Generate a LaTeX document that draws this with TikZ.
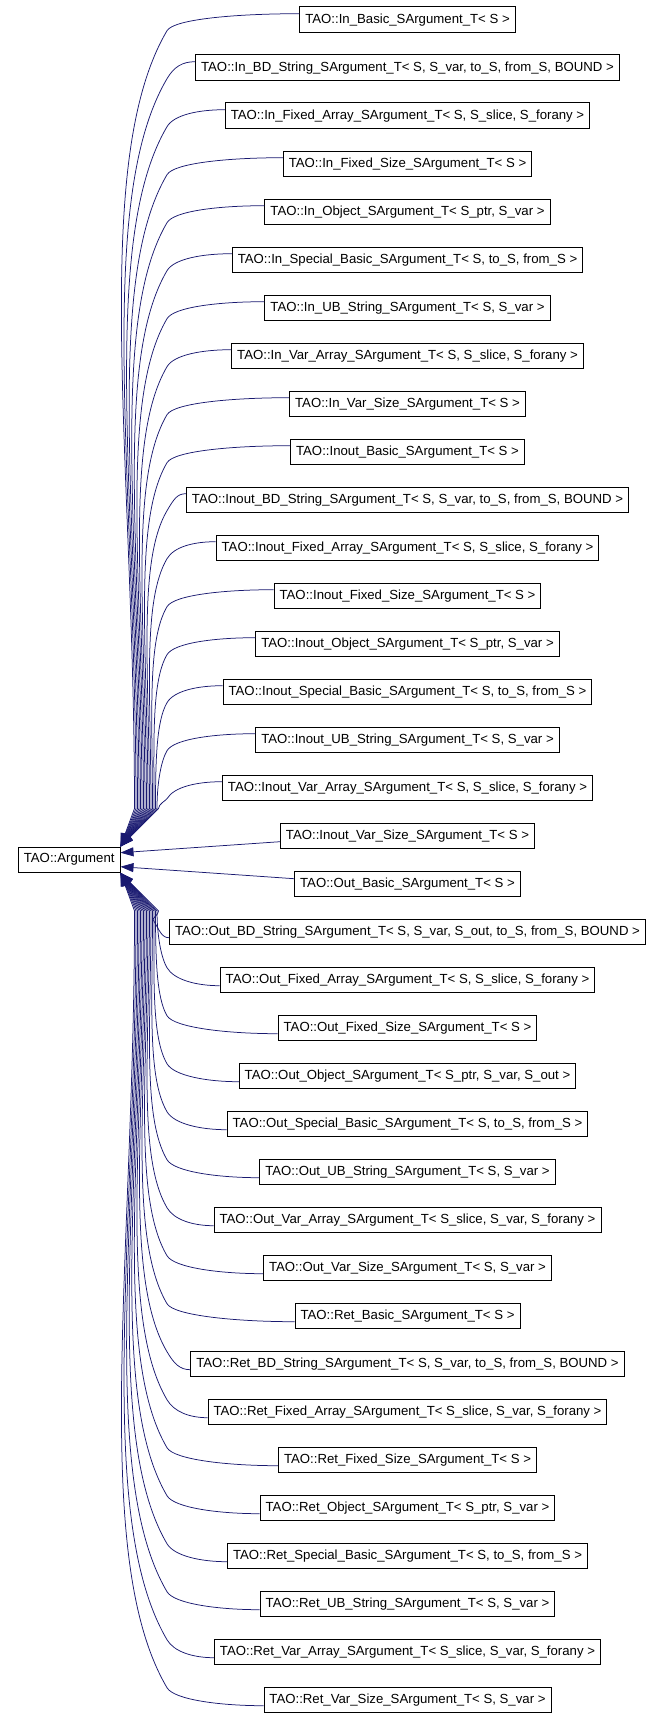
\documentclass[tikz,border=0pt]{standalone}
\usepackage{fontspec}
\setmainfont{Liberation Sans}
\usetikzlibrary{arrows.meta, calc}
\definecolor{edgeblue}{RGB}{25,25,112}

\tikzset{
    cls/.style={draw, line width=0.9pt, inner xsep=5.5pt, inner ysep=0pt,
        minimum height=25.5pt, font=\fontsize{13.2}{15}\selectfont},
    inh/.style={<-, draw=edgeblue, line width=0.75pt},
    % edges into the upper corner of the base class
    fanup/.style={inh, to path={
        let \p1=(\tikztostart), \p2=(\tikztotarget),
            \p3=({min(167pt,\x2-16pt)},\y2-11pt),
            \p4=({\x1+14pt+1.5*(abs(\y2)-20pt)/48},\y1+38pt),
            \n1={\y3-\y4}, \n2={\x2-\x3}
        in -- (\p4)
        .. controls +(0pt,{0.45*\n1*1pt}) and +({-0.1*\n1*1pt},{-0.17*\n1*1pt}) .. (\p3)
        .. controls +(7pt,12pt) and +({-0.45*\n2*1pt},0pt) .. (\x2,\y2+6pt)}},
    % edges into the lower corner of the base class
    fandown/.style={inh, to path={
        let \p1=(\tikztostart), \p2=(\tikztotarget),
            \p3=({min(167pt,\x2-16pt)},\y2+12pt),
            \p4=({\x1+14pt+1.5*(1700pt-abs(\y2))/48},\y1-38pt),
            \n1={\y4-\y3}, \n2={\x2-\x3}
        in -- (\p4)
        .. controls +(0pt,{-0.45*\n1*1pt}) and +({-0.1*\n1*1pt},{0.17*\n1*1pt}) .. (\p3)
        .. controls +(7pt,-12pt) and +({-0.45*\n2*1pt},0pt) .. (\x2,\y2-6pt)}},
}

\begin{document}
\begin{tikzpicture}[x=1pt, y=1pt, >={Triangle[length=13pt,width=9pt]}]
    \useasboundingbox (0,0) rectangle (664,-1718);

    \node[cls]  (arg)   at (69.2,-859.7)   {TAO::Argument};

    \node[cls]  (in1)   at (407.5,-19.7)   {TAO::In\_Basic\_SArgument\_T< S >};
    \node[cls]  (in2)   at (407.5,-67.7)   {TAO::In\_BD\_String\_SArgument\_T< S, S\_var, to\_S, from\_S, BOUND >};
    \node[cls]  (in3)   at (407.5,-115.7)  {TAO::In\_Fixed\_Array\_SArgument\_T< S, S\_slice, S\_forany >};
    \node[cls]  (in4)   at (407.5,-163.7)  {TAO::In\_Fixed\_Size\_SArgument\_T< S >};
    \node[cls]  (in5)   at (407.5,-211.7)  {TAO::In\_Object\_SArgument\_T< S\_ptr, S\_var >};
    \node[cls]  (in6)   at (407.5,-259.7)  {TAO::In\_Special\_Basic\_SArgument\_T< S, to\_S, from\_S >};
    \node[cls]  (in7)   at (407.5,-307.7)  {TAO::In\_UB\_String\_SArgument\_T< S, S\_var >};
    \node[cls]  (in8)   at (407.5,-355.7)  {TAO::In\_Var\_Array\_SArgument\_T< S, S\_slice, S\_forany >};
    \node[cls]  (in9)   at (407.5,-403.7)  {TAO::In\_Var\_Size\_SArgument\_T< S >};

    \node[cls]  (io1)   at (407.5,-451.7)  {TAO::Inout\_Basic\_SArgument\_T< S >};
    \node[cls]  (io2)   at (407.5,-499.7)  {TAO::Inout\_BD\_String\_SArgument\_T< S, S\_var, to\_S, from\_S, BOUND >};
    \node[cls]  (io3)   at (407.5,-547.7)  {TAO::Inout\_Fixed\_Array\_SArgument\_T< S, S\_slice, S\_forany >};
    \node[cls]  (io4)   at (407.5,-595.7)  {TAO::Inout\_Fixed\_Size\_SArgument\_T< S >};
    \node[cls]  (io5)   at (407.5,-643.7)  {TAO::Inout\_Object\_SArgument\_T< S\_ptr, S\_var >};
    \node[cls]  (io6)   at (407.5,-691.7)  {TAO::Inout\_Special\_Basic\_SArgument\_T< S, to\_S, from\_S >};
    \node[cls]  (io7)   at (407.5,-739.7)  {TAO::Inout\_UB\_String\_SArgument\_T< S, S\_var >};
    \node[cls]  (io8)   at (407.5,-787.7)  {TAO::Inout\_Var\_Array\_SArgument\_T< S, S\_slice, S\_forany >};
    \node[cls]  (io9)   at (407.5,-835.7)  {TAO::Inout\_Var\_Size\_SArgument\_T< S >};

    \node[cls]  (out1)  at (407.5,-883.7)  {TAO::Out\_Basic\_SArgument\_T< S >};
    \node[cls]  (out2)  at (407.5,-931.7)  {TAO::Out\_BD\_String\_SArgument\_T< S, S\_var, S\_out, to\_S, from\_S, BOUND >};
    \node[cls]  (out3)  at (407.5,-979.7)  {TAO::Out\_Fixed\_Array\_SArgument\_T< S, S\_slice, S\_forany >};
    \node[cls]  (out4)  at (407.5,-1027.7) {TAO::Out\_Fixed\_Size\_SArgument\_T< S >};
    \node[cls]  (out5)  at (407.5,-1075.7) {TAO::Out\_Object\_SArgument\_T< S\_ptr, S\_var, S\_out >};
    \node[cls]  (out6)  at (407.5,-1123.7) {TAO::Out\_Special\_Basic\_SArgument\_T< S, to\_S, from\_S >};
    \node[cls]  (out7)  at (407.5,-1171.7) {TAO::Out\_UB\_String\_SArgument\_T< S, S\_var >};
    \node[cls]  (out8)  at (407.5,-1219.7) {TAO::Out\_Var\_Array\_SArgument\_T< S\_slice, S\_var, S\_forany >};
    \node[cls]  (out9)  at (407.5,-1267.7) {TAO::Out\_Var\_Size\_SArgument\_T< S, S\_var >};

    \node[cls]  (ret1)  at (407.5,-1315.7) {TAO::Ret\_Basic\_SArgument\_T< S >};
    \node[cls]  (ret2)  at (407.5,-1363.7) {TAO::Ret\_BD\_String\_SArgument\_T< S, S\_var, to\_S, from\_S, BOUND >};
    \node[cls]  (ret3)  at (407.5,-1411.7) {TAO::Ret\_Fixed\_Array\_SArgument\_T< S\_slice, S\_var, S\_forany >};
    \node[cls]  (ret4)  at (407.5,-1459.7) {TAO::Ret\_Fixed\_Size\_SArgument\_T< S >};
    \node[cls]  (ret5)  at (407.5,-1507.7) {TAO::Ret\_Object\_SArgument\_T< S\_ptr, S\_var >};
    \node[cls]  (ret6)  at (407.5,-1555.7) {TAO::Ret\_Special\_Basic\_SArgument\_T< S, to\_S, from\_S >};
    \node[cls]  (ret7)  at (407.5,-1603.7) {TAO::Ret\_UB\_String\_SArgument\_T< S, S\_var >};
    \node[cls]  (ret8)  at (407.5,-1651.7) {TAO::Ret\_Var\_Array\_SArgument\_T< S\_slice, S\_var, S\_forany >};
    \node[cls]  (ret9)  at (407.5,-1699.7) {TAO::Ret\_Var\_Size\_SArgument\_T< S, S\_var >};

    \path
        (arg.north east)
            edge [fanup] (in1.west)
            edge [fanup] (in2.west)
            edge [fanup] (in3.west)
            edge [fanup] (in4.west)
            edge [fanup] (in5.west)
            edge [fanup] (in6.west)
            edge [fanup] (in7.west)
            edge [fanup] (in8.west)
            edge [fanup] (in9.west)
            edge [fanup] (io1.west)
            edge [fanup] (io2.west)
            edge [fanup] (io3.west)
            edge [fanup] (io4.west)
            edge [fanup] (io5.west)
            edge [fanup] (io6.west)
            edge [fanup] (io7.west)
            edge [fanup] (io8.west)
        ([yshift=7pt]arg.east)
            edge [inh] ([yshift=-6pt]io9.west)
        ([yshift=-7pt]arg.east)
            edge [inh] ([yshift=5pt]out1.west)
        (arg.south east)
            edge [fandown] (out2.west)
            edge [fandown] (out3.west)
            edge [fandown] (out4.west)
            edge [fandown] (out5.west)
            edge [fandown] (out6.west)
            edge [fandown] (out7.west)
            edge [fandown] (out8.west)
            edge [fandown] (out9.west)
            edge [fandown] (ret1.west)
            edge [fandown] (ret2.west)
            edge [fandown] (ret3.west)
            edge [fandown] (ret4.west)
            edge [fandown] (ret5.west)
            edge [fandown] (ret6.west)
            edge [fandown] (ret7.west)
            edge [fandown] (ret8.west)
            edge [fandown] (ret9.west)
        ;
\end{tikzpicture}
\end{document}
